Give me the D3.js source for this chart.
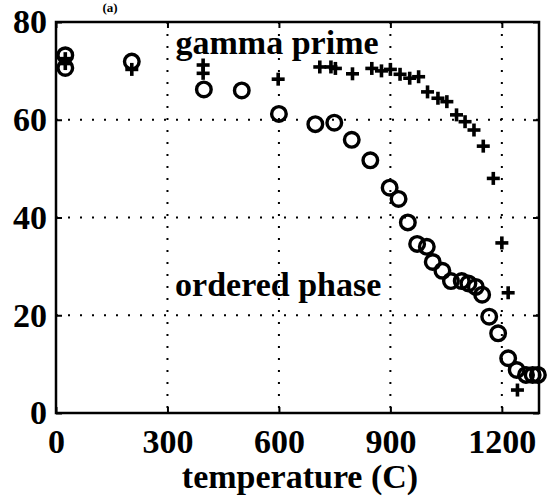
<!DOCTYPE html>
<html>
<head>
<meta charset="utf-8">
<script src="https://cdn.jsdelivr.net/npm/d3@7"></script>
<style>
  html, body { margin: 0; padding: 0; background: #fff; }
  svg { display: block; }
  text { font-family: "Liberation Serif", "Times New Roman", serif; font-weight: bold; fill: #000; }
</style>
</head>
<body>
<svg id="chart" width="553" height="501"></svg>
<script>
// ---- data ----
const xTicks = [0, 300, 600, 900, 1200];
const yTicks = [0, 20, 40, 60, 80];
const xGrid = [300, 600, 900, 1200];
const yGrid = [20, 40, 60];

// ordered phase (circles)
const orderedT = [25, 25, 204, 398, 500, 600, 698, 749, 796, 846, 898, 922, 947, 972, 998, 1014, 1040, 1063, 1092, 1110, 1130, 1147, 1166, 1190, 1217, 1240, 1265, 1283, 1297];
const orderedV = [73.2, 70.6, 71.9, 66.2, 66.0, 61.2, 59.1, 59.4, 55.9, 51.7, 46.1, 43.8, 39.0, 34.6, 34.0, 30.9, 29.1, 27.0, 27.0, 26.5, 25.8, 24.2, 19.7, 16.3, 11.2, 8.8, 7.8, 7.8, 7.8];

// gamma prime (plus)
const gammaT = [25, 25, 204, 396, 396, 598, 710, 740, 752, 798, 850, 876, 900, 926, 952, 976, 1000, 1028, 1052, 1078, 1101, 1125, 1150, 1177, 1200, 1217, 1242];
const gammaV = [72.5, 71.5, 70.3, 71.2, 69.5, 68.3, 70.8, 70.8, 70.5, 69.4, 70.5, 70.0, 70.3, 69.3, 68.5, 68.8, 65.7, 64.4, 63.7, 61.0, 59.6, 57.9, 54.6, 48.0, 34.8, 24.6, 4.7];

const labels = [
  { text: "gamma prime", t: 595, v: 73.5 },
  { text: "ordered phase", t: 598, v: 23.9 }
];
const xLabel = "temperature (C)";
const topLabel = "(a)";

// ---- drawing ----
const svg = d3.select("#chart");
const x = d3.scaleLinear().domain([0, 1300]).range([56, 539]);
const y = d3.scaleLinear().domain([0, 80]).range([413, 22]);
const FS = 34;

// grid
svg.append("g").selectAll("line").data(xGrid).join("line")
  .attr("x1", d => x(d)).attr("x2", d => x(d))
  .attr("y1", y(80)).attr("y2", y(0))
  .attr("stroke", "#000").attr("stroke-width", 2)
  .attr("stroke-dasharray", "2,10");
svg.append("g").selectAll("line").data(yGrid).join("line")
  .attr("x1", x(0)).attr("x2", x(1300))
  .attr("y1", d => y(d)).attr("y2", d => y(d))
  .attr("stroke", "#000").attr("stroke-width", 2)
  .attr("stroke-dasharray", "2,10");

// axes
const gx = svg.append("g").attr("transform", `translate(0,${y(0)})`)
  .call(d3.axisBottom(x).tickValues(xTicks).tickSize(-6).tickPadding(16).tickFormat(d3.format("d")));
const gy = svg.append("g").attr("transform", `translate(${x(0)},0)`)
  .call(d3.axisLeft(y).tickValues(yTicks).tickSize(-6).tickPadding(9).tickFormat(d3.format("d")));
const gxt = svg.append("g").attr("transform", `translate(0,${y(80)})`)
  .call(d3.axisTop(x).tickValues(xTicks).tickSize(-6).tickFormat(""));
const gyr = svg.append("g").attr("transform", `translate(${x(1300)},0)`)
  .call(d3.axisRight(y).tickValues(yTicks).tickSize(-6).tickFormat(""));
[gx, gy, gxt, gyr].forEach(g => {
  g.select(".domain").remove();
  g.selectAll(".tick line").attr("stroke", "#000").attr("stroke-width", 2);
  g.selectAll("text").style("font-family", '"Liberation Serif", serif')
    .style("font-weight", "bold").style("font-size", FS + "px").attr("fill", "#000");
});

// frame
svg.append("rect")
  .attr("x", x(0)).attr("y", y(80))
  .attr("width", x(1300) - x(0)).attr("height", y(0) - y(80))
  .attr("fill", "none").attr("stroke", "#000").attr("stroke-width", 2.5);

// circles
svg.append("g").selectAll("circle").data(orderedT).join("circle")
  .attr("cx", (d) => x(d)).attr("cy", (d, i) => y(orderedV[i]))
  .attr("r", 7.3).attr("fill", "none").attr("stroke", "#000").attr("stroke-width", 3.4);

// plus markers
svg.append("g").selectAll("g").data(gammaT).join("g")
  .attr("transform", (d, i) => `translate(${x(d)},${y(gammaV[i])})`)
  .each(function () {
    const g = d3.select(this);
    g.append("line").attr("x1", -6.5).attr("x2", 6.5).attr("y1", 0).attr("y2", 0)
      .attr("stroke", "#000").attr("stroke-width", 3.6);
    g.append("line").attr("x1", 0).attr("x2", 0).attr("y1", -6.5).attr("y2", 6.5)
      .attr("stroke", "#000").attr("stroke-width", 3.6);
  });

// annotations
svg.append("g").selectAll("text").data(labels).join("text")
  .attr("x", d => x(d.t)).attr("y", d => y(d.v))
  .attr("text-anchor", "middle").style("font-size", FS + "px")
  .text(d => d.text);

svg.append("text").attr("x", 300).attr("y", 488)
  .attr("text-anchor", "middle").style("font-size", FS + "px").text(xLabel);

svg.append("text").attr("x", 110).attr("y", 12)
  .attr("text-anchor", "middle").style("font-size", "13px").text(topLabel);
</script>
</body>
</html>
